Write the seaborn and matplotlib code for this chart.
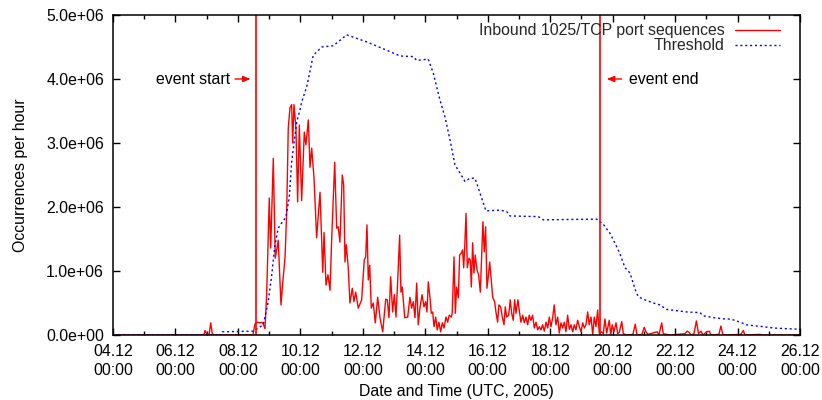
import numpy as np
import pandas as pd
import matplotlib
matplotlib.use("Agg")
import matplotlib.pyplot as plt
import matplotlib.dates as mdates
import seaborn as sns

# ---------------- data ----------------
START = pd.Timestamp("2005-12-04 00:00")
END = pd.Timestamp("2005-12-26 00:00")

# hours since 04.12 00:00 and occurrences per hour (millions)
inbound_hours = [
    0, 69.9, 70.7, 72.0, 73.8, 75.1, 76.3, 77.6, 107.5, 109.1,
    109.9, 111.4, 113.0, 114.5, 115.5, 116.8, 118.1, 120.1, 121.2, 123.2,
    124.7, 127.0, 129.1, 130.4, 132.2, 133.5, 134.7, 136.0, 137.3, 138.1,
    139.1, 140.6, 141.9, 143.2, 145.0, 147.0, 148.3, 150.1, 151.4, 152.7,
    154.5, 156.5, 159.1, 161.2, 162.2, 163.7, 165.2, 166.8, 168.1, 170.4,
    171.9, 173.1, 174.4, 176.2, 177.3, 178.3, 179.3, 180.8, 182.1, 183.9,
    185.2, 186.5, 188.5, 191.1, 193.1, 194.2, 195.2, 196.2, 197.3, 198.5,
    200.0, 201.6, 203.4, 205.2, 207.3, 209.6, 210.8, 212.1, 213.4, 214.9,
    216.2, 217.5, 219.0, 220.3, 221.3, 222.3, 224.2, 226.5, 228.2, 229.5,
    230.8, 232.1, 233.4, 234.6, 235.9, 237.5, 239.0, 240.3, 241.3, 242.3,
    243.6, 244.6, 245.7, 246.7, 248.0, 249.2, 250.5, 251.8, 253.1, 254.4,
    255.9, 257.2, 258.4, 260.0, 260.7, 262.1, 263.1, 264.1, 265.4, 266.4,
    267.7, 268.7, 269.5, 270.3, 271.3, 272.3, 273.6, 274.6, 275.4, 276.4,
    277.4, 278.4, 279.7, 281.0, 282.3, 283.3, 284.3, 285.3, 286.4, 287.4,
    288.4, 289.5, 290.5, 291.8, 293.3, 294.3, 295.6, 296.6, 297.9, 299.2,
    300.5, 301.5, 302.6, 304.1, 305.3, 306.4, 307.6, 308.7, 309.7, 311.2,
    312.2, 313.5, 314.9, 316.1, 317.4, 318.7, 319.9, 321.2, 322.5, 323.8,
    325.1, 326.4, 327.6, 328.9, 330.2, 331.5, 332.8, 334.1, 335.3, 336.6,
    337.9, 339.1, 340.4, 341.8, 343.0, 344.3, 345.6, 346.8, 348.1, 349.4,
    350.7, 352.0, 353.3, 354.5, 355.8, 357.1, 358.4, 359.7, 361.0, 362.2,
    363.5, 364.8, 366.0, 367.4, 368.7, 369.9, 371.2, 372.5, 373.7, 375.6,
    376.8, 378.1, 379.4, 381.4, 382.5, 383.7, 385.0, 386.6, 387.9, 389.1,
    391.0, 392.2, 395.0, 399.6, 401.4, 402.7, 406.5, 408.3, 409.6, 411.1,
    418.3, 419.6, 421.7, 422.9, 428.1, 439.6, 441.3, 442.9, 444.2, 446.5,
    448.4, 450.0, 451.9, 453.4, 456.3, 458.3, 459.6, 465.7, 467.2, 468.8,
    482.6, 484.4, 485.7, 497.2, 499.5, 527.0,
]
inbound_millions = [
    0, 0, 0.07, 0.02, 0, 0.19, 0.02, 0, 0, 0.17,
    0.19, 0.2, 0.19, 0.2, 0.17, 0.1, 0.63, 2.14, 1.36, 2.76,
    1.2, 1.48, 0.47, 0.81, 1.2, 1.93, 3.23, 3.55, 3.6, 3.0,
    3.6, 3.23, 2.08, 3.28, 2.1, 3.17, 2.97, 3.36, 2.62, 2.92,
    2.45, 1.52, 2.23, 0.98, 1.6, 0.78, 0.94, 0.7, 1.52, 2.7,
    1.67, 1.69, 1.45, 2.5, 2.34, 1.14, 1.41, 1.05, 0.5, 0.73,
    0.52, 0.67, 0.42, 0.55, 1.17, 1.22, 1.72, 0.86, 1.09, 0.42,
    0.5, 0.19, 0.59, 0.27, 0.05, 0.56, 0.55, 0.27, 0.91, 0.36,
    0.63, 0.28, 0.94, 1.56, 0.67, 0.75, 0.27, 0.28, 0.59, 0.42,
    0.52, 0.27, 0.81, 0.16, 0.42, 0.63, 0.44, 0.52, 0.36, 0.83,
    0.59, 0.34, 0.36, 0.13, 0.28, 0.08, 0.2, 0.05, 0.19, 0.11,
    0.28, 0.2, 0.31, 0.28, 0.34, 1.22, 0.34, 0.75, 0.58, 1.25,
    1.28, 1.33, 1.05, 1.36, 1.9, 1.05, 1.2, 1.17, 0.75, 1.44,
    0.97, 1.25, 1.02, 0.94, 0.67, 1.2, 1.77, 1.3, 1.69, 0.73,
    0.91, 1.14, 0.91, 0.59, 0.52, 0.36, 0.2, 0.47, 0.44, 0.28,
    0.16, 0.44, 0.28, 0.31, 0.55, 0.34, 0.23, 0.55, 0.34, 0.55,
    0.39, 0.2, 0.31, 0.19, 0.28, 0.16, 0.31, 0.23, 0.31, 0.11,
    0.2, 0.08, 0.13, 0.08, 0.16, 0.06, 0.2, 0.11, 0.28, 0.13,
    0.27, 0.47, 0.16, 0.28, 0.03, 0.19, 0.11, 0.2, 0.05, 0.31,
    0.09, 0.16, 0.05, 0.16, 0.08, 0.23, 0.13, 0.05, 0.19, 0.11,
    0.16, 0.36, 0.16, 0.28, 0.0, 0.28, 0.13, 0.39, 0.03, 0.05,
    0.02, 0.25, 0.03, 0.23, 0.0, 0.16, 0.05, 0.19, 0.02, 0.04,
    0.21, 0.02, 0.0, 0.01, 0.17, 0.0, 0.01, 0.12, 0.05, 0.01,
    0.05, 0.0, 0.19, 0.02, 0.0, 0.02, 0.06, 0.04, 0.0, 0.02,
    0.22, 0.02, 0.06, 0.0, 0.05, 0.06, 0.0, 0.01, 0.14, 0.0,
    0.01, 0.07, 0.0, 0.01, 0.0, 0.0,
]

threshold_hours = [
    0, 83.5, 84.0, 107.8, 115.5, 119.3, 122.0, 124.5, 127.0, 129.6,
    132.9, 135.5, 137.3, 141.2, 143.7, 145.0, 148.9, 153.9, 160.4, 169.3,
    179.6, 195.0, 210.3, 220.6, 230.8, 233.4, 242.3, 246.2, 251.3, 255.1,
    259.0, 262.8, 266.7, 270.5, 274.4, 278.2, 282.0, 286.6, 297.4, 302.6,
    305.1, 326.8, 330.7, 371.7, 376.8, 381.9, 387.1, 389.6, 393.5, 397.3,
    399.8, 401.9, 403.7, 407.5, 415.2, 420.4, 425.5, 440.9, 451.1, 453.6,
    461.9, 470.4, 475.0, 478.8, 482.4, 486.5, 494.7, 499.8, 507.4, 516.4,
    527.9,
]
threshold_millions = [
    0, 0, 0.05, 0.06, 0.16, 0.52, 0.94, 1.41, 1.67, 1.75,
    1.84, 2.16, 2.7, 3.33, 3.52, 3.64, 3.88, 4.37, 4.5, 4.52,
    4.69, 4.58, 4.45, 4.36, 4.35, 4.29, 4.31, 4.09, 3.67, 3.41,
    3.05, 2.66, 2.53, 2.4, 2.45, 2.45, 2.22, 1.94, 1.95, 1.93,
    1.86, 1.85, 1.8, 1.81, 1.73, 1.59, 1.38, 1.27, 1.05, 0.97,
    0.81, 0.68, 0.6, 0.56, 0.5, 0.47, 0.4, 0.36, 0.35, 0.3,
    0.27, 0.25, 0.25, 0.22, 0.2, 0.16, 0.14, 0.13, 0.11, 0.1,
    0.09,
]
assert len(inbound_hours) == len(inbound_millions), (len(inbound_hours), len(inbound_millions))
assert len(threshold_hours) == len(threshold_millions), (len(threshold_hours), len(threshold_millions))

event_start = pd.Timestamp("2005-12-08 13:55")
event_end = pd.Timestamp("2005-12-19 14:30")
event_label_level = 4.0e6

y_ticks = [0, 1e6, 2e6, 3e6, 4e6, 5e6]
major_days = pd.date_range(START, END, freq="2D")
minor_days = pd.date_range(START, END, freq="1D")

series_labels = ["Inbound 1025/TCP port sequences", "Threshold"]

# ---------------- plotting ----------------
sns.set_style("ticks")
plt.rcParams["font.family"] = ["Liberation Sans", "DejaVu Sans"]
FS = 11.4

inbound = pd.DataFrame({
    "time": START + pd.to_timedelta(inbound_hours, unit="h"),
    "count": np.asarray(inbound_millions) * 1e6,
})
threshold = pd.DataFrame({
    "time": START + pd.to_timedelta(threshold_hours, unit="h"),
    "count": np.asarray(threshold_millions) * 1e6,
})

fig = plt.figure(figsize=(8.22, 4.0), dpi=100)
ax = fig.add_axes([113 / 822, 65 / 400, 687 / 822, 320 / 400])

sns.lineplot(data=inbound, x="time", y="count", ax=ax, color="#ff0000",
             lw=1.0, estimator=None, sort=False, label=series_labels[0])
sns.lineplot(data=threshold, x="time", y="count", ax=ax, color="#0000ff",
             lw=1.0, linestyle=(0, (1.5, 2.0)), estimator=None, sort=False,
             label=series_labels[1])

es = mdates.date2num(event_start.to_pydatetime())
ee = mdates.date2num(event_end.to_pydatetime())
ax.axvline(es, color="#ff0000", lw=1.2)
ax.axvline(ee, color="#ff0000", lw=1.2)

hour = 1.0 / 24.0
arrow = dict(arrowstyle="-|>,head_length=0.45,head_width=0.18", color="#ff0000",
             lw=1.0, shrinkA=0, shrinkB=0)
ax.annotate("", xy=(es - 4.1 * hour, event_label_level),
            xytext=(es - 16.1 * hour, event_label_level), arrowprops=arrow)
ax.text(es - 20.0 * hour, event_label_level, "event start", ha="right",
        va="center", fontsize=FS, color="black")
ax.annotate("", xy=(ee + 4.9 * hour, event_label_level),
            xytext=(ee + 16.5 * hour, event_label_level), arrowprops=arrow)
ax.text(ee + 22.3 * hour, event_label_level, "event end", ha="left",
        va="center", fontsize=FS, color="black")

ax.set_xlim(mdates.date2num(START.to_pydatetime()), mdates.date2num(END.to_pydatetime()))
ax.set_ylim(0, 5e6)

ax.set_xticks(mdates.date2num(major_days.to_pydatetime()))
ax.set_xticklabels([d.strftime("%d.%m\n%H:%M") for d in major_days])
ax.set_xticks(mdates.date2num(minor_days.to_pydatetime()), minor=True)
ax.set_yticks(y_ticks)
ax.set_yticklabels(["%.1e" % v for v in y_ticks])

ax.tick_params(which="both", direction="in", top=True, right=True,
               colors="black", width=1.0, labelsize=FS)
ax.tick_params(which="major", length=5, pad=6.5)
ax.tick_params(which="minor", length=3)
for lbl in ax.get_xticklabels():
    lbl.set_linespacing(1.32)

for sp in ax.spines.values():
    sp.set_color("black")
    sp.set_linewidth(1.1)
    sp.set_visible(True)

ax.set_xlabel("Date and Time (UTC, 2005)", fontsize=FS, color="black")
ax.set_ylabel("Occurrences per hour", fontsize=FS, color="black")
ax.xaxis.set_label_coords(0.5, -0.152)
ax.yaxis.set_label_coords(-0.1236, 0.5)

handles, labels = ax.get_legend_handles_labels()
ax.legend(handles[:2], labels[:2], loc="upper right",
          bbox_to_anchor=((780 - 113) / 687, 0.9737), frameon=False,
          markerfirst=False, handlelength=2.84, handletextpad=0.68,
          labelspacing=0.0, borderpad=0, borderaxespad=0, fontsize=FS)

fig.savefig("out.png", dpi=100)
